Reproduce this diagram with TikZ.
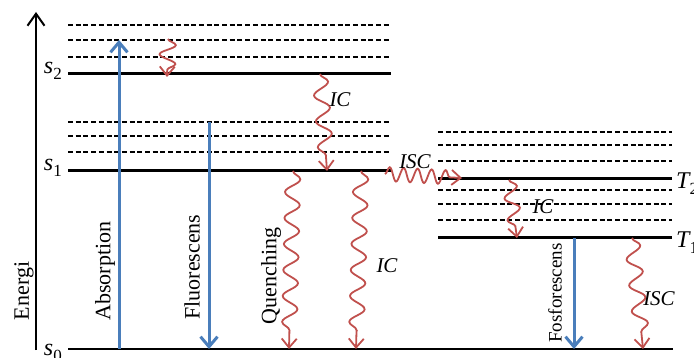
\documentclass[tikz,border=0pt]{standalone}
\usepackage{fontspec}
\setmainfont{Liberation Serif}
\usetikzlibrary{arrows.meta,decorations.pathmorphing}
\definecolor{wblue}{RGB}{74,126,187}
\definecolor{wred}{RGB}{192,80,77}
\tikzset{
 level/.style={line width=3pt},
 vib/.style={line width=1.8pt, dash pattern=on 5pt off 2.7pt},
 radiative/.style={wblue,line width=3pt,-{Straight Barb[length=10pt,width=17pt]}},
 wavy/.style={wred,line width=1.8pt,decorate,decoration={snake,amplitude=7.5pt,segment length=26pt,post length=7pt},-{Straight Barb[length=9pt,width=15pt]}},
 lbl/.style={font=\fontsize{22}{22}\selectfont, rotate=90, inner sep=0pt},
 mlab/.style={font=\fontsize{21}{21}\selectfont\itshape, inner sep=0pt},
 levlab/.style={font=\fontsize{24}{24}\selectfont\itshape, inner sep=0pt},
}
\newcommand{\lsub}[1]{\raisebox{-0.25em}{\fontsize{17}{17}\selectfont\upshape #1}}
\begin{document}
\begin{tikzpicture}[x=1pt,y=-1pt]
\useasboundingbox (0,0) rectangle (694,358);
% axis
\coordinate (axB) at (36,350);
\coordinate (axT) at (36,12);
\draw[line width=2pt,-{Straight Barb[length=12pt,width=17pt]}] (axB) -- (axT);
\node[lbl] (energi) at (24,291) {Energi};
% singlet levels
\foreach \y in {25,40,57,122,136,152} \draw[vib] (68,\y) -- (391,\y);
\coordinate (s2L) at (68,74); \coordinate (s2R) at (391,74);
\coordinate (s1L) at (68,171); \coordinate (s1R) at (391,171);
\coordinate (s0L) at (68,349); \coordinate (s0R) at (673,349);
\draw[level] (s2L) -- (s2R);
\draw[level] (s1L) -- (s1R);
\draw[line width=2pt] (s0L) -- (s0R);
% triplet levels
\foreach \y in {132,145,161,190,204,220} \draw[vib] (438,\y) -- (672,\y);
\coordinate (t2L) at (438,179); \coordinate (t2R) at (672,179);
\coordinate (t1L) at (438,238); \coordinate (t1R) at (672,238);
\draw[level] (t2L) -- (t2R);
\draw[level] (t1L) -- (t1R);
% level labels
\node[levlab,anchor=east] (ls2) at (62,71) {s\lsub{2}};
\node[levlab,anchor=east] (ls1) at (62,168) {s\lsub{1}};
\node[levlab,anchor=east] (ls0) at (62,353) {s\lsub{0}};
\node[levlab,anchor=west] (lt2) at (676,184) {T\lsub{2}};
\node[levlab,anchor=west] (lt1) at (676,243) {T\lsub{1}};
% radiative transitions
\coordinate (abA) at (119,349); \coordinate (abB) at (119,40);
\draw[radiative] (abA) -- (abB);
\node[lbl] (absorption) at (105,271) {Absorption};
\coordinate (flA) at (209,122); \coordinate (flB) at (209,349);
\draw[radiative] (flA) -- (flB);
\node[lbl] (fluorescens) at (192,267) {Fluorescens};
\coordinate (foA) at (574,238); \coordinate (foB) at (574,349);
\draw[radiative] (foA) -- (foB);
\node[lbl,font=\fontsize{19}{19}\selectfont] (fosforescens) at (555,293) {Fosforescens};
% non-radiative transitions
\coordinate (v1A) at (168,39); \coordinate (v1B) at (167,77);
\draw[wavy,decoration={segment length=19pt,amplitude=8pt,post length=6pt}] (v1A) -- (v1B);
\coordinate (ic1A) at (320,74); \coordinate (ic1B) at (327,171);
\draw[wavy] (ic1A) -- (ic1B);
\node[mlab] (ic1) at (340,100) {IC};
\coordinate (qA) at (293,171); \coordinate (qB) at (289,349);
\draw[wavy] (qA) -- (qB);
\node[lbl] (quenching) at (271,276) {Quenching};
\coordinate (ic2A) at (361,171); \coordinate (ic2B) at (356,349);
\draw[wavy] (ic2A) -- (ic2B);
\node[mlab] (ic2) at (387,266) {IC};
\coordinate (iscA) at (385,174); \coordinate (iscB) at (462,178);
\draw[wavy,decoration={segment length=14pt,amplitude=7pt,post length=6pt}] (iscA) -- (iscB);
\node[mlab] (isc1) at (415,162) {ISC};
\coordinate (ic3A) at (509,180); \coordinate (ic3B) at (517,238);
\draw[wavy,decoration={segment length=22pt,amplitude=7pt,post length=8pt}] (ic3A) -- (ic3B);
\node[mlab] (ic3) at (543,207) {IC};
\coordinate (isc2A) at (632,238); \coordinate (isc2B) at (643,349);
\draw[wavy] (isc2A) -- (isc2B);
\node[mlab] (isc2) at (659,299) {ISC};
\end{tikzpicture}
\end{document}
